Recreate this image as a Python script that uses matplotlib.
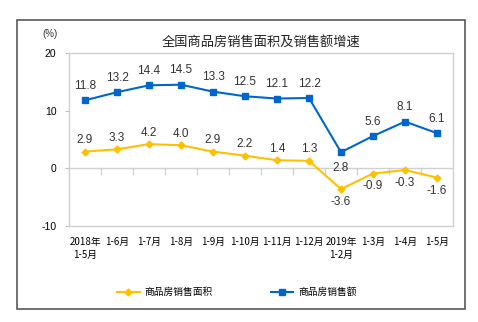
import matplotlib
matplotlib.use("Agg")
import matplotlib.pyplot as plt
from matplotlib.patches import Rectangle

plt.rcParams['font.family'] = ['Liberation Sans', 'Noto Sans CJK SC', 'DejaVu Sans']

categories = ["2018年\n1-5月", "1-6月", "1-7月", "1-8月", "1-9月", "1-10月", "1-11月",
              "1-12月", "2019年\n1-2月", "1-3月", "1-4月", "1-5月"]
area = [2.9, 3.3, 4.2, 4.0, 2.9, 2.2, 1.4, 1.3, -3.6, -0.9, -0.3, -1.6]
sales = [11.8, 13.2, 14.4, 14.5, 13.3, 12.5, 12.1, 12.2, 2.8, 5.6, 8.1, 6.1]
yticks = [-10, 0, 10, 20]

W, H = 478, 322
fig = plt.figure(figsize=(W/100, H/100), dpi=100)
ax = fig.add_axes([69/W, 1-226/H, (453-69)/W, (226-53)/H])

yellow = '#FFC000'
blue = '#0066CC'
x = list(range(len(categories)))
l1, = ax.plot(x, area, color=yellow, lw=1.5, marker='D', ms=3.5, label='商品房销售面积')
l2, = ax.plot(x, sales, color=blue, lw=1.5, marker='s', ms=4, label='商品房销售额')

ax.set_xlim(-0.5, len(categories)-0.5)
ax.set_ylim(-10, 20)
ax.set_yticks(yticks)
ax.set_yticklabels([str(v) for v in yticks], fontsize=7.5)
ax.tick_params(axis='y', length=3, color='#BFBFBF', pad=6)
ax.set_xticks(x)
ax.set_xticklabels(categories, fontsize=7, family=['Noto Sans CJK SC', 'DejaVu Sans'], linespacing=1.3, va='top')
ax.tick_params(axis='x', length=0, pad=8)
for s in ax.spines.values():
    s.set_color('#D0D0D0')
    s.set_linewidth(1)
ax.axhline(0, color='#D0D0D0', lw=1, zorder=0)
for i in range(1, len(categories)):
    ax.plot([i-0.5, i-0.5], [0, -0.9], color='#D0D0D0', lw=1, zorder=0)

for i, v in enumerate(sales):
    if i == 8:
        ax.annotate(f"{v:.1f}", (i, v), xytext=(0, -7), textcoords='offset points', ha='center', va='top', fontsize=8.5, color='#333333')
    else:
        ax.annotate(f"{v:.1f}", (i, v), xytext=(0, 6), textcoords='offset points', ha='center', va='bottom', fontsize=8.5, color='#333333')
for i, v in enumerate(area):
    if v < 0:
        ax.annotate(f"{v:.1f}", (i, v), xytext=(0, -5), textcoords='offset points', ha='center', va='top', fontsize=8.5, color='#333333')
    else:
        ax.annotate(f"{v:.1f}", (i, v), xytext=(0, 4), textcoords='offset points', ha='center', va='bottom', fontsize=8.5, color='#333333')

fig.text(261/W, 1-42/H, "全国商品房销售面积及销售额增速", ha='center', va='center', fontsize=9.5,
         family=['Noto Sans CJK SC', 'DejaVu Sans'], color='#222222')
fig.text(50/W, 1-34/H, "(%)", ha='center', va='center', fontsize=7, color='#333333')

fig.legend(handles=[l1, l2], loc='center', bbox_to_anchor=(237/W, 1-292/H), ncol=2, frameon=False,
           prop={'family': ['Noto Sans CJK SC', 'DejaVu Sans'], 'size': 7}, handlelength=2.3,
           columnspacing=6, handletextpad=0.5)

fig.patches.append(Rectangle((17/W, 1-309/H), (465-17)/W, (309-20)/H, transform=fig.transFigure,
                             fill=False, edgecolor='#595959', lw=1.2))
fig.savefig("out.png", dpi=100)
